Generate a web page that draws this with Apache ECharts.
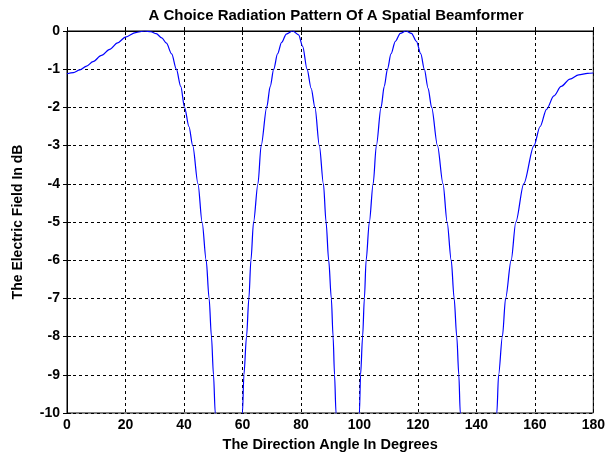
<!DOCTYPE html>
<html>
<head>
<meta charset="utf-8">
<script src="https://cdn.jsdelivr.net/npm/echarts@6/dist/echarts.min.js"></script>
<style>html,body{margin:0;padding:0;background:#fff;}#c{width:608px;height:457px;}</style>
</head>
<body>
<div id="c"></div>
<script>
var titleText = 'A Choice Radiation Pattern Of A Spatial Beamformer';
var xTitle = 'The Direction Angle In Degrees';
var yTitle = 'The Electric Field In dB';
var xTicks = [0, 20, 40, 60, 80, 100, 120, 140, 160, 180];
var yTicks = [-10, -9, -8, -7, -6, -5, -4, -3, -2, -1, 0];

var angles = [0, 2.2, 4.4, 6.7, 8.9, 11.8, 14.6, 17.3, 20, 23.5, 26.5, 28.7, 30.5, 32.4, 34, 35.8, 37.4, 38.9, 40.2, 41.7, 43, 44.8, 46.2, 47.6, 48.6, 49.4, 50.1, 50.7, 51.1, 55.5,
  59.6, 60.0, 60.5, 61.4, 62.2, 62.9, 63.8, 65.3, 66.4, 68.3, 69.5, 70.7, 72.0, 73.4, 75.0, 77.2, 79.2, 80.6, 82.1, 83.5, 84.8, 86.3, 87.7, 88.6, 89.5, 90.4, 91.0, 91.5, 92.0, 92.3, 96,
  99.7, 100.0, 100.4, 101.1, 101.7, 102.3, 103.4, 104.7, 105.8, 107.4, 108.5, 109.6, 110.8, 112.3, 114.0, 115.9, 117.8, 119.5, 121.0, 122.2, 123.5, 124.7, 126.7, 128.6, 130.0, 131.4, 132.4, 133.3, 134.0, 134.5, 134.9, 141,
  146.6, 147.0, 147.6, 148.9, 150.0, 151.9, 153.5, 156.2, 159.7, 161.8, 164.0, 166.5, 169.0, 172.0, 175.0, 178.0, 180];
var fieldDb = [-1.12, -1.09, -1.02, -0.92, -0.80, -0.64, -0.48, -0.31, -0.16, -0.04, 0, -0.02, -0.07, -0.18, -0.32, -0.6, -1.0, -1.45, -2.0, -2.5, -3, -4, -5, -6, -7, -8, -9, -10, -11, -40,
  -11, -10, -9, -8, -7, -6, -5, -4, -3, -2, -1.45, -1, -0.6, -0.3, -0.08, 0, -0.1, -0.4, -1, -1.5, -2, -3, -4, -5, -6, -7, -8, -9, -10, -11, -40,
  -11, -10, -9, -8, -7, -6, -5, -4, -3, -2, -1.45, -1, -0.6, -0.27, -0.06, 0, -0.06, -0.27, -0.6, -1, -1.5, -2, -3, -4, -5, -6, -7, -8, -9, -10, -11, -40,
  -11, -10, -9, -8, -7, -6, -5, -4, -3, -2.5, -2.05, -1.7, -1.45, -1.26, -1.15, -1.11, -1.10];

var pts = angles.map(function (a, i) { return [a, fieldDb[i]]; });
var font = 'Liberation Sans';
var gridLine = { show: true, lineStyle: { color: '#000', type: [3, 3], width: 1 } };

var chart = echarts.init(document.getElementById('c'), null, { renderer: 'canvas' });
chart.setOption({
  animation: false,
  backgroundColor: '#fff',
  title: {
    text: titleText, left: 331, textAlign: 'center', top: 3,
    textStyle: { fontFamily: font, fontWeight: 'bold', fontSize: 15, color: '#000' }
  },
  grid: { left: 67, right: 14, top: 31, bottom: 43, show: true, borderColor: '#000', borderWidth: 1 },
  xAxis: [{
    type: 'value', min: xTicks[0], max: xTicks[xTicks.length - 1], interval: 20,
    name: xTitle, nameLocation: 'middle', nameGap: 24,
    nameTextStyle: { fontFamily: font, fontWeight: 'bold', fontSize: 14.5, color: '#000' },
    axisLine: { show: true, lineStyle: { color: '#000' } },
    axisTick: { show: true, inside: true, length: 4, lineStyle: { color: '#000' } },
    axisLabel: { fontFamily: font, fontWeight: 'bold', fontSize: 14, color: '#000', margin: 5 },
    splitLine: gridLine
  }, {
    type: 'value', position: 'top', min: xTicks[0], max: xTicks[xTicks.length - 1], interval: 20,
    axisLine: { show: true, lineStyle: { color: '#000' } },
    axisTick: { show: true, inside: true, length: 4, lineStyle: { color: '#000' } },
    axisLabel: { show: false }, splitLine: { show: false }
  }],
  yAxis: [{
    type: 'value', min: yTicks[0], max: yTicks[yTicks.length - 1], interval: 1,
    name: yTitle, nameLocation: 'middle', nameGap: 42,
    nameTextStyle: { fontFamily: font, fontWeight: 'bold', fontSize: 14, color: '#000' },
    axisLine: { show: true, lineStyle: { color: '#000' } },
    axisTick: { show: true, inside: true, length: 4, lineStyle: { color: '#000' } },
    axisLabel: { fontFamily: font, fontWeight: 'bold', fontSize: 14, color: '#000', margin: 7 },
    splitLine: gridLine
  }, {
    type: 'value', position: 'right', min: yTicks[0], max: yTicks[yTicks.length - 1], interval: 1,
    axisLine: { show: true, lineStyle: { color: '#000' } },
    axisTick: { show: true, inside: true, length: 4, lineStyle: { color: '#000' } },
    axisLabel: { show: false }, splitLine: { show: false }
  }],
  series: [{
    type: 'line', data: pts, showSymbol: false, clip: true, smooth: 0.3, smoothMonotone: 'x',
    lineStyle: { color: '#0000ff', width: 1.2 }
  }]
});
</script>
</body>
</html>
